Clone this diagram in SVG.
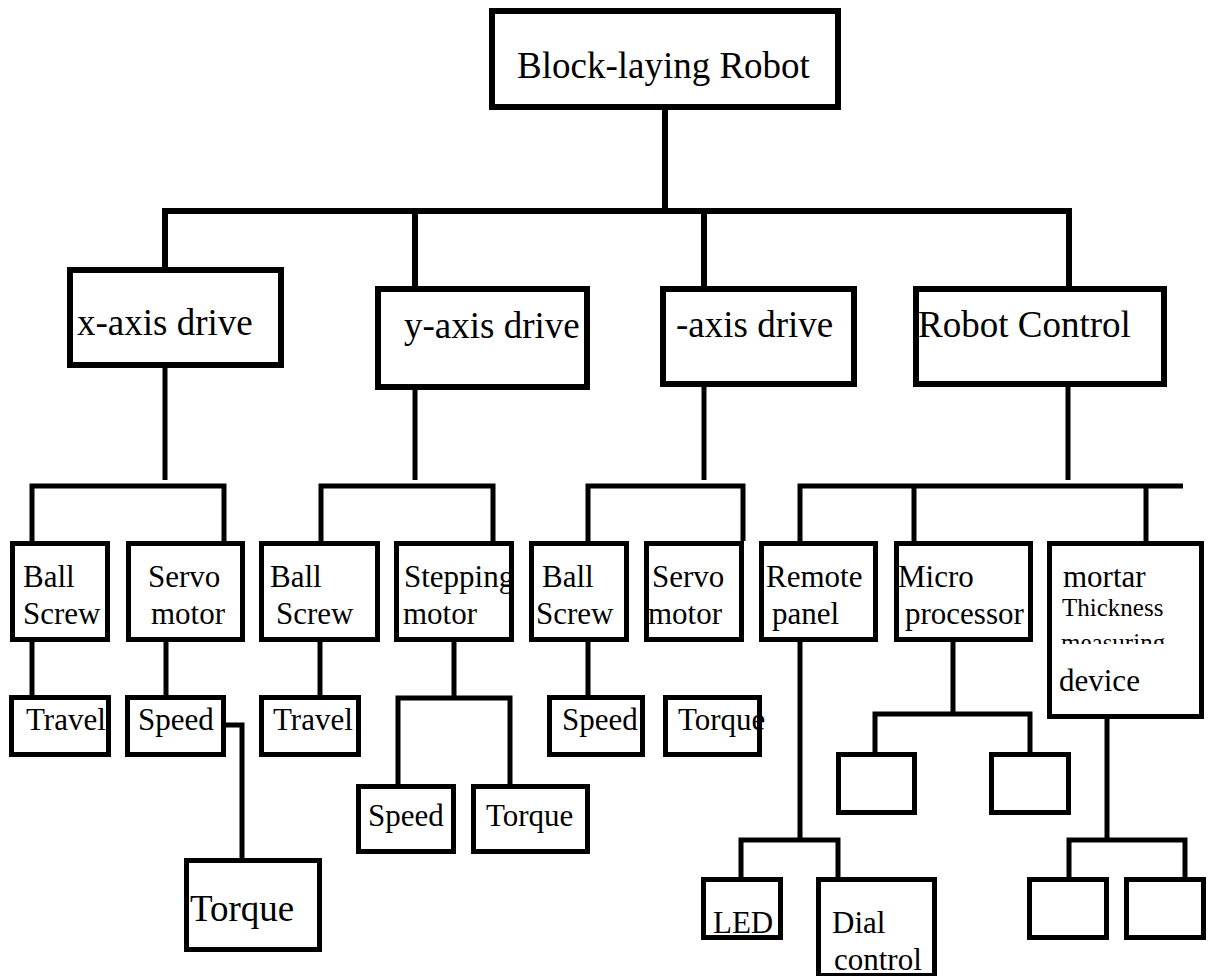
<svg xmlns="http://www.w3.org/2000/svg" width="1208" height="976" viewBox="0 0 1208 976">
<style>
.b0{fill:#fff;stroke:#000;stroke-width:6}
.b{fill:#fff;stroke:#000;stroke-width:5}
.c0{fill:none;stroke:#000;stroke-width:6;stroke-linejoin:miter}
.c{fill:none;stroke:#000;stroke-width:5;stroke-linejoin:miter}
text{font-family:'Liberation Serif','DejaVu Serif',serif;fill:#000}
.L{font-size:37px}
.s{font-size:31px}
.t{font-size:25px}
</style>
<defs>
<clipPath id="clipMeas"><rect x="1050" y="600" width="150" height="44"/></clipPath>
</defs>
<rect width="1208" height="976" fill="#fff"/>
<g id="connectors">
<path class="c0" d="M665,110 V211"/>
<path class="c0" d="M165,267 V211 H1069 V286"/>
<path class="c0" d="M415,211 V286"/>
<path class="c0" d="M704,211 V286"/>
<path class="c" d="M165,368 V480"/>
<path class="c" d="M32,541 V486 H224 V541"/>
<path class="c" d="M415,390 V480"/>
<path class="c" d="M321,541 V486 H493 V541"/>
<path class="c" d="M704,387 V480"/>
<path class="c" d="M588,541 V486 H743 V541"/>
<path class="c" d="M1068,387 V480"/>
<path class="c" d="M800,541 V486 H1183"/>
<path class="c" d="M914,486 V541"/>
<path class="c" d="M1146,486 V541"/>
<path class="c" d="M32,642 V695"/>
<path class="c" d="M166,642 V695"/>
<path class="c" d="M320,642 V695"/>
<path class="c" d="M588,642 V695"/>
<path class="c" d="M454,642 V698"/>
<path class="c" d="M398,784 V698 H510 V784"/>
<path class="c" d="M226,725 H242 V858"/>
<path class="c" d="M800,642 V840"/>
<path class="c" d="M741,877 V840 H838 V877"/>
<path class="c" d="M953,642 V714"/>
<path class="c" d="M875,752 V714 H1030 V752"/>
<path class="c" d="M1107,719 V840"/>
<path class="c" d="M1069,877 V840 H1185 V877"/>
</g>
<g font-family="Liberation Serif, serif">
<g id="n-root"><rect class="b0" x="492" y="11" width="346" height="96"/><text class="L" x="517" y="78">Block-laying Robot</text></g>
<g id="n-x"><rect class="b0" x="70" y="270" width="211" height="95"/><text class="L" x="77" y="335">x-axis drive</text></g>
<g id="n-y"><rect class="b0" x="378" y="289" width="209" height="98"/><text class="L" x="404" y="338">y-axis drive</text></g>
<g id="n-z"><rect class="b0" x="663" y="289" width="191" height="95"/><text class="L" x="676" y="337">-axis drive</text></g>
<g id="n-rc"><rect class="b0" x="916" y="289" width="248" height="95"/><text class="L" x="918" y="337">Robot Control</text></g>

<g id="n-bs-x"><rect class="b" x="12.5" y="543.5" width="95" height="96"/><text class="s" x="23" y="587">Ball</text><text class="s" x="23" y="624">Screw</text></g>
<g id="n-sm-x"><rect class="b" x="128.5" y="543.5" width="114" height="96"/><text class="s" x="148" y="587">Servo</text><text class="s" x="151" y="624">motor</text></g>
<g id="n-bs-y"><rect class="b" x="261.5" y="543.5" width="116" height="96"/><text class="s" x="270" y="587">Ball</text><text class="s" x="276" y="624">Screw</text></g>
<g id="n-step"><rect class="b" x="396.5" y="543.5" width="115" height="96"/><text class="s" x="404" y="587">Stepping</text><text class="s" x="403" y="624">motor</text></g>
<g id="n-bs-z"><rect class="b" x="531.5" y="543.5" width="95" height="96"/><text class="s" x="542" y="587">Ball</text><text class="s" x="536" y="624">Screw</text></g>
<g id="n-sm-z"><rect class="b" x="646.5" y="543.5" width="95" height="96"/><text class="s" x="652" y="587">Servo</text><text class="s" x="648" y="624">motor</text></g>
<g id="n-rp"><rect class="b" x="761.5" y="543.5" width="114" height="96"/><text class="s" x="766" y="587">Remote</text><text class="s" x="772" y="624">panel</text></g>
<g id="n-mp"><rect class="b" x="896.5" y="543.5" width="134" height="96"/><text class="s" x="898" y="587">Micro</text><text class="s" x="905" y="624">processor</text></g>
<g id="n-mortar"><rect class="b" x="1049.5" y="543.5" width="152" height="173"/><text class="s" x="1063" y="587">mortar</text><text class="t" x="1062" y="616">Thickness</text><text class="t" x="1061" y="651" clip-path="url(#clipMeas)">measuring</text><text class="s" x="1059" y="691">device</text></g>

<g id="n-travel-x"><rect class="b" x="11.5" y="697.5" width="97" height="57"/><text class="s" x="26" y="730">Travel</text></g>
<g id="n-speed-x"><rect class="b" x="127.5" y="697.5" width="96" height="57"/><text class="s" x="138" y="730">Speed</text></g>
<g id="n-travel-y"><rect class="b" x="261.5" y="697.5" width="97" height="57"/><text class="s" x="273" y="730">Travel</text></g>
<g id="n-speed-z"><rect class="b" x="549.5" y="697.5" width="93" height="57"/><text class="s" x="562" y="730">Speed</text></g>
<g id="n-torque-z"><rect class="b" x="665.5" y="697.5" width="94" height="57"/><text class="s" x="678" y="730">Torque</text></g>

<g id="n-speed-y"><rect class="b" x="358.5" y="786.5" width="95" height="65"/><text class="s" x="368" y="826">Speed</text></g>
<g id="n-torque-y"><rect class="b" x="473.5" y="786.5" width="114" height="65"/><text class="s" x="486" y="826">Torque</text></g>
<g id="n-torque-x"><rect class="b" x="186.5" y="860.5" width="133" height="89"/><text class="L" x="190" y="921">Torque</text></g>

<g id="n-led"><rect class="b" x="703.5" y="879.5" width="77" height="58"/><text class="s" x="713" y="933">LED</text></g>
<g id="n-dial"><rect class="b" x="818.5" y="879.5" width="116" height="96"/><text class="s" x="832" y="933">Dial</text><text class="s" x="834" y="970">control</text></g>
<g id="n-mp1"><rect class="b" x="838.5" y="754.5" width="76" height="58"/></g>
<g id="n-mp2"><rect class="b" x="991.5" y="754.5" width="77" height="58"/></g>
<g id="n-mo1"><rect class="b" x="1029.5" y="879.5" width="77" height="58"/></g>
<g id="n-mo2"><rect class="b" x="1126.5" y="879.5" width="77" height="58"/></g>
</g>
</svg>
